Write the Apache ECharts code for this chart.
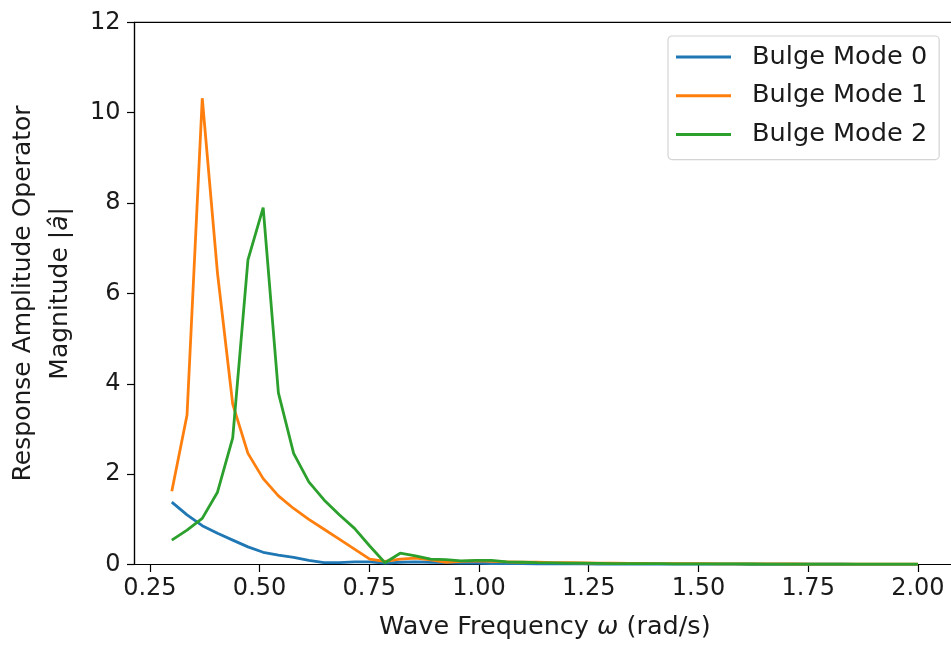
<!DOCTYPE html>
<html>
<head>
<meta charset="utf-8">
<title>Bulge mode RAO</title>
<script src="https://cdn.jsdelivr.net/npm/echarts@6/dist/echarts.min.js"></script>
<style>
  html, body { margin: 0; padding: 0; background: #fff; }
  #chart { width: 951px; height: 646px; }
</style>
</head>
<body>
<div id="chart"></div>
<script>
// Wave frequencies (rad/s), 50 evenly spaced samples from 0.3 to 2.0
const omega = [0.3000, 0.3347, 0.3694, 0.4041, 0.4388, 0.4735, 0.5082, 0.5429, 0.5776, 0.6122,
  0.6469, 0.6816, 0.7163, 0.7510, 0.7857, 0.8204, 0.8551, 0.8898, 0.9245, 0.9592,
  0.9939, 1.0286, 1.0633, 1.0980, 1.1327, 1.1673, 1.2020, 1.2367, 1.2714, 1.3061,
  1.3408, 1.3755, 1.4102, 1.4449, 1.4796, 1.5143, 1.5490, 1.5837, 1.6184, 1.6531,
  1.6878, 1.7224, 1.7571, 1.7918, 1.8265, 1.8612, 1.8959, 1.9306, 1.9653, 2.0000];

// |a_hat| per bulge mode
const mode0 = [1.38, 1.10, 0.86, 0.69, 0.54, 0.39, 0.27, 0.21, 0.16, 0.09,
  0.04, 0.04, 0.06, 0.06, 0.03, 0.05, 0.06, 0.05, 0.04, 0.03,
  0.03, 0.02, 0.02, 0.02, 0.015, 0.015, 0.012, 0.012, 0.01, 0.01,
  0.01, 0.01, 0.008, 0.008, 0.008, 0.007, 0.007, 0.007, 0.006, 0.006,
  0.006, 0.005, 0.005, 0.005, 0.005, 0.004, 0.004, 0.004, 0.004, 0.004];
const mode1 = [1.62, 3.31, 10.32, 6.45, 3.55, 2.46, 1.90, 1.52, 1.24, 1.00,
  0.78, 0.56, 0.34, 0.12, 0.07, 0.12, 0.14, 0.10, 0.05, 0.07,
  0.08, 0.07, 0.06, 0.05, 0.05, 0.04, 0.04, 0.035, 0.03, 0.03,
  0.025, 0.025, 0.02, 0.02, 0.02, 0.018, 0.016, 0.015, 0.014, 0.013,
  0.012, 0.011, 0.01, 0.01, 0.01, 0.009, 0.009, 0.008, 0.008, 0.008];
const mode2 = [0.54, 0.76, 1.02, 1.60, 2.80, 6.74, 7.90, 3.80, 2.46, 1.83,
  1.43, 1.10, 0.80, 0.41, 0.04, 0.25, 0.19, 0.12, 0.11, 0.08,
  0.09, 0.09, 0.06, 0.05, 0.04, 0.035, 0.03, 0.03, 0.025, 0.02,
  0.02, 0.02, 0.018, 0.016, 0.015, 0.014, 0.013, 0.012, 0.011, 0.01,
  0.01, 0.01, 0.009, 0.009, 0.008, 0.008, 0.008, 0.007, 0.007, 0.007];

const seriesNames = ['Bulge Mode 0', 'Bulge Mode 1', 'Bulge Mode 2'];
const seriesColors = ['#1f77b4', '#ff7f0e', '#2ca02c'];
const xTicks = [0.25, 0.50, 0.75, 1.00, 1.25, 1.50, 1.75, 2.00];

const FONT = 'DejaVu Sans';
const pair = (xs, ys) => xs.map((x, i) => [x, ys[i]]);

const chart = echarts.init(document.getElementById('chart'), null, { renderer: 'canvas' });

const lineSeries = [mode0, mode1, mode2].map((ys, i) => ({
  name: seriesNames[i],
  type: 'line',
  data: pair(omega, ys),
  symbol: 'none',
  smooth: false,
  lineStyle: { color: seriesColors[i], width: 2.8 },
  itemStyle: { color: seriesColors[i] },
  emphasis: { disabled: true },
  animation: false
}));

chart.setOption({
  backgroundColor: '#ffffff',
  animation: false,
  textStyle: { fontFamily: FONT },
  grid: {
    left: 134.5,
    top: 22.3,
    width: 820.7,
    height: 542.2,
    containLabel: false,
    outerBoundsMode: 'none',
    show: true,
    borderColor: '#000',
    borderWidth: 1.2,
    backgroundColor: 'transparent'
  },
  legend: {
    orient: 'vertical',
    left: 668,
    top: 36,
    padding: [8, 12, 12, 8],
    itemGap: 12.8,
    itemWidth: 55,
    itemHeight: 3,
    icon: 'rect',
    backgroundColor: 'rgba(255,255,255,0.8)',
    borderColor: '#d4d4d4',
    borderWidth: 1.2,
    borderRadius: 4,
    textStyle: {
      fontFamily: FONT,
      fontSize: 25.6,
      lineHeight: 25.5,
      color: '#1a1a1a',
      padding: [0, 0, 0, 16]
    },
    data: seriesNames
  },
  xAxis: {
    type: 'value',
    min: 0.215,
    max: 2.085,
    name: 'Wave Frequency {i|ω} (rad/s)',
    nameLocation: 'middle',
    nameGap: 50,
    nameTextStyle: {
      fontFamily: FONT,
      fontSize: 25.5,
      color: '#1a1a1a',
      rich: { i: { fontFamily: FONT, fontSize: 25.5, fontStyle: 'italic', color: '#1a1a1a' } }
    },
    axisLine: { show: true, onZero: false, lineStyle: { color: '#000', width: 1.2 } },
    axisTick: { show: true, length: 7.5, lineStyle: { color: '#000', width: 1.2 }, customValues: xTicks },
    axisLabel: {
      margin: 12,
      fontFamily: FONT,
      fontSize: 24,
      color: '#1a1a1a',
      customValues: xTicks,
      formatter: v => v.toFixed(2)
    },
    splitLine: { show: false }
  },
  yAxis: {
    type: 'value',
    min: 0,
    max: 12,
    interval: 2,
    name: 'Response Amplitude Operator\nMagnitude |{i|â}|',
    nameLocation: 'middle',
    nameGap: 54,
    nameRotate: 90,
    nameTextStyle: {
      fontFamily: FONT,
      fontSize: 25,
      lineHeight: 37,
      color: '#1a1a1a',
      align: 'center',
      rich: { i: { fontFamily: FONT, fontSize: 25, lineHeight: 37, fontStyle: 'italic', color: '#1a1a1a' } }
    },
    axisLine: { show: true, lineStyle: { color: '#000', width: 1.2 } },
    axisTick: { show: true, length: 7.5, lineStyle: { color: '#000', width: 1.2 } },
    axisLabel: {
      margin: 14,
      fontFamily: FONT,
      fontSize: 24,
      color: '#1a1a1a',
      formatter: v => String(Math.round(v))
    },
    splitLine: { show: false }
  },
  series: lineSeries
});
</script>
</body>
</html>
